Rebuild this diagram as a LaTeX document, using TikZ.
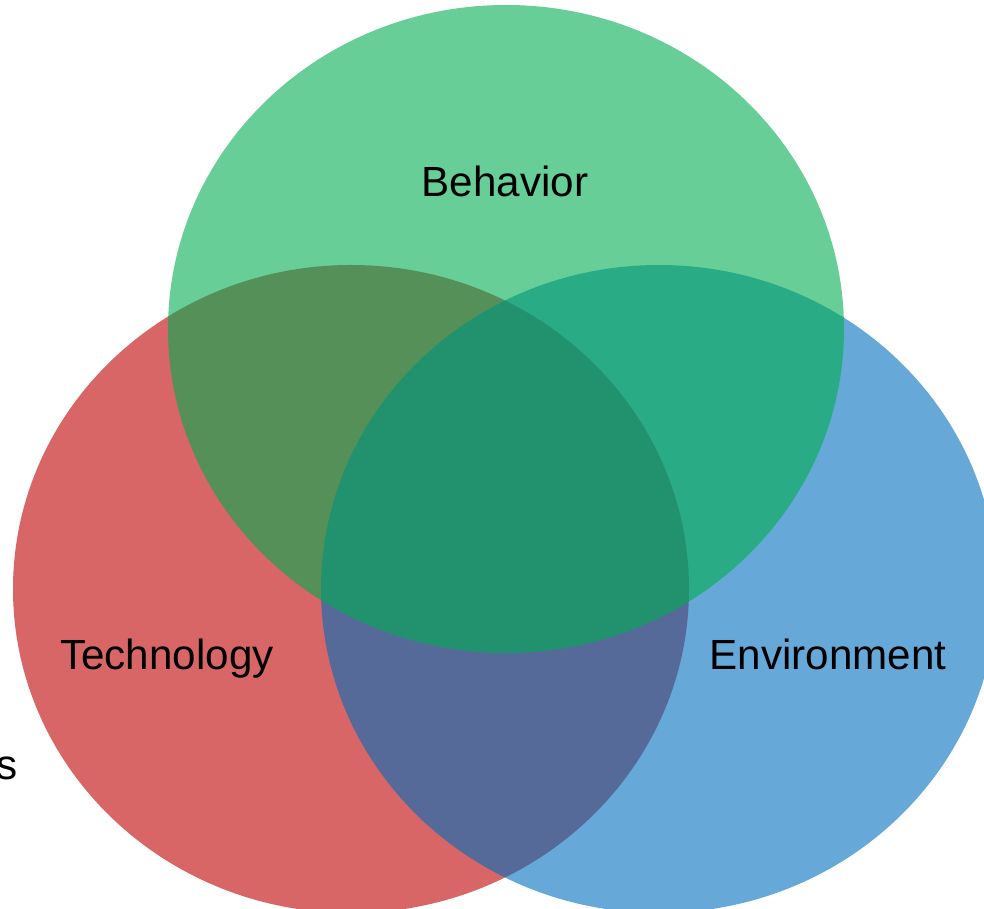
\documentclass[tikz,border=0pt]{standalone}
\usepackage{xcolor}
\usepackage{fontspec}
\setmainfont{Liberation Sans}
\usetikzlibrary{shapes.geometric}

\definecolor{techred}{RGB}{190,0,0}
\definecolor{envblue}{RGB}{0,110,190}
\definecolor{behgreen}{RGB}{0,173,80}

\begin{document}
\begin{tikzpicture}[
    set/.style={ellipse, inner sep=0pt, minimum width=13.52cm, minimum height=12.96cm, fill opacity=0.6},
    label/.style={font=\fontsize{24}{28}\selectfont, text=black, anchor=base}
]
    \useasboundingbox (0,0) rectangle (19.68,18.18);
    \begin{scope}
    \clip (0,0) rectangle (19.68,18.18);
    \node[set, fill=techred] (tech) at (7.02, 6.4) {};
    \node[set, fill=envblue] (env) at (13.18, 6.4) {};
    \node[set, fill=behgreen] (beh) at (10.12, 11.6) {};
    \end{scope}

    \node[label] (behlbl) at (10.1, 14.24) {Behavior};
    \node[label] (techlbl) at (3.34, 4.78) {Technology};
    \node[label] (envlbl) at (16.56, 4.78) {Environment};
    \node[label, anchor=base east, inner sep=0pt] (cut) at (0.36, 2.58) {s};
\end{tikzpicture}
\end{document}
